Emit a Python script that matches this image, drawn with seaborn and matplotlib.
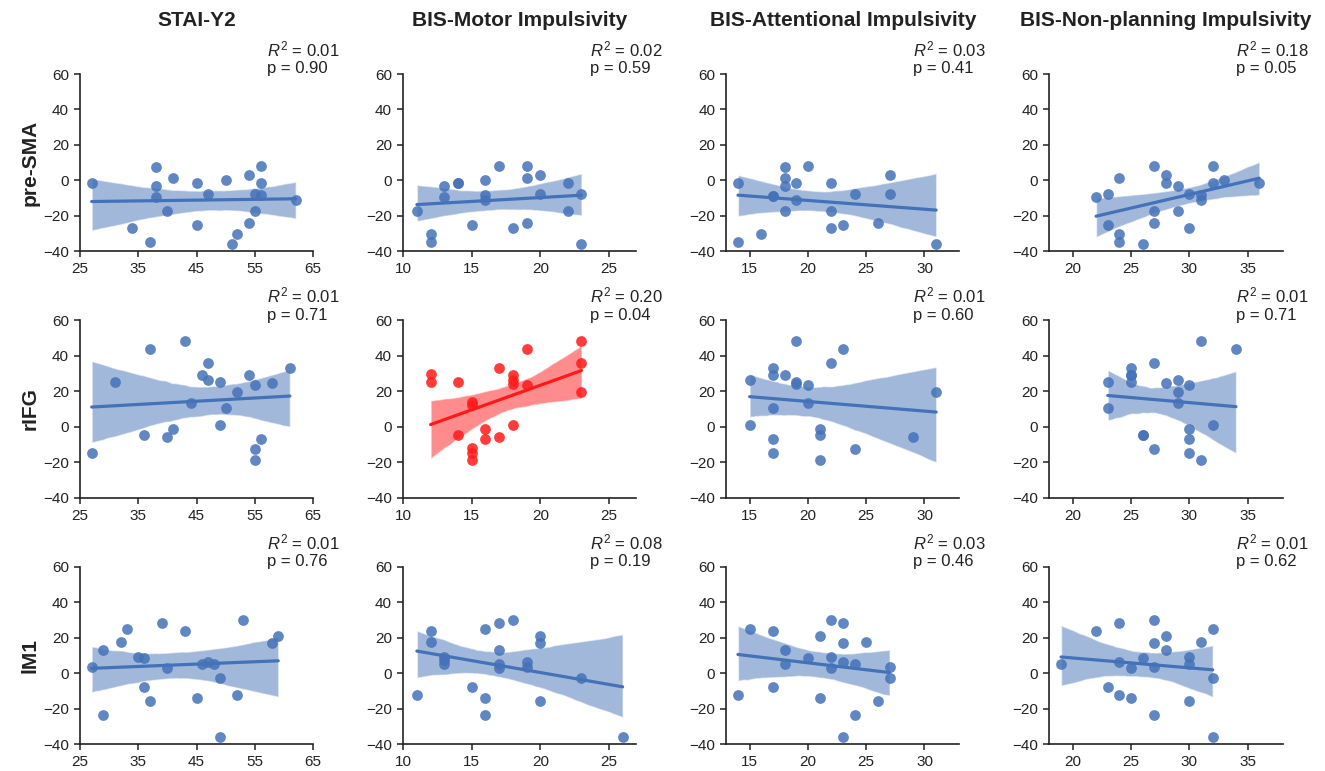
import matplotlib
matplotlib.use("Agg")
import matplotlib.pyplot as plt
import seaborn as sns
from matplotlib.collections import PolyCollection

# ---------------- data ----------------
col_titles = ["STAI-Y2", "BIS-Motor Impulsivity", "BIS-Attentional Impulsivity", "BIS-Non-planning Impulsivity"]
row_labels = ["pre-SMA", "rIFG", "lM1"]
x_ticks = [[25, 35, 45, 55, 65], [10, 15, 20, 25], [15, 20, 25, 30], [20, 25, 30, 35]]
x_lims = [(25, 65), (10, 27), (13, 33), (18, 38)]
y_ticks = [-40, -20, 0, 20, 40, 60]

presma_stai_x = [27, 34, 37, 38, 38, 38, 40, 41, 45, 45, 47, 50, 51, 52, 54, 54, 55, 55, 56, 56, 56, 62]
presma_stai_y = [-1.7, -26.6, -34.5, 7.7, -3.2, -9.4, -17.3, 1.5, -1.7, -25, -7.9, 0, -36, -30.5, -23.9, 3.2, -7.9, -17.3, 7.9, -1.7, -8.1, -10.9]
presma_motor_x = [11, 12, 12, 13, 13, 14, 14, 15, 16, 16, 16, 17, 18, 19, 19, 19, 20, 20, 22, 22, 23, 23]
presma_motor_y = [-17.3, -30.3, -34.5, -3.0, -9.4, -1.7, -1.7, -25, 0, -8.1, -10.9, 7.9, -26.6, 7.9, 1.5, -23.9, 3.2, -7.7, -1.7, -17.3, -7.7, -36]
presma_attn_x = [14, 14, 16, 17, 17, 18, 18, 18, 18, 19, 19, 20, 22, 22, 22, 23, 24, 26, 27, 27, 31]
presma_attn_y = [-1.7, -34.5, -30.5, -8.9, -8.9, 7.7, 1.5, -3.2, -17.3, -1.7, -10.9, 7.9, -1.7, -17.3, -26.6, -25, -7.9, -23.9, 3.2, -7.9, -36]
presma_nonplan_x = [22, 23, 23, 24, 24, 24, 26, 27, 27, 27, 28, 28, 29, 29, 30, 30, 31, 31, 32, 32, 33, 36]
presma_nonplan_y = [-9.4, -7.9, -25, 1.5, -30.3, -34.5, -36, 7.9, -17.3, -23.9, 3.2, -1.7, -3.0, -17.3, -7.9, -26.6, -8.1, -10.9, 7.9, -1.7, 0, -1.7]

rifg_stai_x = [27, 31, 36, 37, 40, 41, 43, 44, 46, 47, 47, 49, 49, 50, 52, 54, 55, 55, 55, 56, 58, 61]
rifg_stai_y = [-14.6, 25.2, -4.7, 43.6, -5.6, -1.5, 48.4, 13.5, 29, 35.9, 26.2, 25.2, 1.1, 10.8, 19.8, 29.2, 23.4, -12.5, -18.9, -6.7, 24.5, 33.3]
rifg_motor_x = [12, 12, 14, 14, 15, 15, 15, 15, 15, 16, 16, 17, 17, 18, 18, 18, 18, 19, 19, 23, 23, 23]
rifg_motor_y = [29.5, 25.2, 25.2, -4.7, 13.8, 12, -12.1, -14.8, -18.9, -1.5, -6.7, 33.3, -5.6, 29.2, 26.4, 23.9, 1.1, 43.6, 23.6, 48.4, 35.9, 19.6]
rifg_attn_x = [15, 15, 17, 17, 17, 17, 17, 18, 19, 19, 19, 20, 20, 21, 21, 21, 22, 23, 24, 29, 31]
rifg_attn_y = [26.2, 1.1, 33.3, 29, 10.8, -6.7, -14.8, 29, 48.4, 25.2, 23.9, 23.6, 13.5, -1.5, -4.7, -18.9, 35.9, 43.6, -12.5, -5.6, 19.6]
rifg_nonplan_x = [23, 23, 25, 25, 25, 25, 26, 26, 27, 27, 28, 29, 29, 29, 30, 30, 30, 30, 31, 31, 32, 34]
rifg_nonplan_y = [25.2, 10.8, 33.3, 29.2, 29.2, 25.2, -4.7, -4.7, 35.9, -12.5, 24.5, 26.2, 19.6, 13.5, 23.4, -1.5, -6.7, -14.8, 48.4, -18.9, 1.1, 43.6]

m1_stai_x = [27, 29, 29, 32, 33, 35, 36, 36, 37, 39, 40, 43, 45, 46, 47, 48, 49, 49, 52, 53, 58, 59]
m1_stai_y = [3.4, 12.8, -23.9, 17.5, 25, 9.2, 8.5, -8.1, -15.6, 28.4, 3.0, 23.5, -14.1, 5.3, 6.4, 5.3, -3, -36, -12.6, 29.8, 17.1, 20.9]
m1_motor_x = [11, 12, 12, 13, 13, 13, 15, 16, 16, 16, 17, 17, 17, 17, 18, 19, 19, 20, 20, 20, 23, 26]
m1_motor_y = [-12.6, 23.5, 17.5, 9.2, 7.3, 5.3, -8.1, 25, -14.1, -23.9, 28.4, 12.8, 5.3, 3.0, 29.8, 6.4, 3.4, 20.9, 17.1, -15.6, -3, -36]
m1_attn_x = [14, 15, 17, 17, 18, 18, 20, 21, 21, 22, 22, 22, 23, 23, 23, 23, 24, 24, 25, 26, 27, 27]
m1_attn_y = [-12.6, 25, 23.5, -8.1, 12.8, 5.3, 8.5, 20.9, -14.1, 29.8, 9.2, 3.0, 28.4, 17.1, 6.4, -36, 5.3, -23.9, 17.5, -15.6, 3.4, -3]
m1_nonplan_x = [19, 22, 23, 24, 24, 24, 25, 25, 26, 27, 27, 27, 27, 28, 28, 30, 30, 30, 31, 32, 32, 32]
m1_nonplan_y = [5.3, 23.5, -8.1, 28.4, 6.4, -12.6, 3.0, -14.1, 8.5, 29.8, 17.1, 3.4, -23.9, 20.9, 12.8, 9.2, 5.3, -15.6, 17.5, 25, -3, -36]

r2_values = [[0.01, 0.02, 0.03, 0.18], [0.01, 0.20, 0.01, 0.01], [0.01, 0.08, 0.03, 0.01]]
p_values = [[0.90, 0.59, 0.41, 0.05], [0.71, 0.04, 0.60, 0.71], [0.76, 0.19, 0.46, 0.62]]

panel_data = [
    [(presma_stai_x, presma_stai_y), (presma_motor_x, presma_motor_y),
     (presma_attn_x, presma_attn_y), (presma_nonplan_x, presma_nonplan_y)],
    [(rifg_stai_x, rifg_stai_y), (rifg_motor_x, rifg_motor_y),
     (rifg_attn_x, rifg_attn_y), (rifg_nonplan_x, rifg_nonplan_y)],
    [(m1_stai_x, m1_stai_y), (m1_motor_x, m1_motor_y),
     (m1_attn_x, m1_attn_y), (m1_nonplan_x, m1_nonplan_y)],
]

# ---------------- style ----------------
sns.set_theme(style="ticks")
plt.rcParams['font.family'] = ['Liberation Sans', 'DejaVu Sans']
plt.rcParams['mathtext.fontset'] = 'custom'
plt.rcParams['mathtext.rm'] = 'Liberation Sans'
plt.rcParams['mathtext.it'] = 'Liberation Sans:italic'

blue = "#4472B8"
red = "#FF1A1A"

fig, axes = plt.subplots(3, 4, figsize=(13.25, 7.71), dpi=100)
fig.subplots_adjust(left=0.0604, right=0.968, top=0.904, bottom=0.035,
                    wspace=0.386, hspace=0.39)

for r in range(3):
    for c in range(4):
        ax = axes[r, c]
        xs, ys = panel_data[r][c]
        col = red if (r == 1 and c == 1) else blue
        sns.regplot(x=xs, y=ys, ax=ax, color=col, seed=3,
                    scatter_kws=dict(s=60, alpha=0.85, linewidths=0, zorder=3),
                    line_kws=dict(lw=2.3, zorder=4))
        for coll in ax.collections:
            if isinstance(coll, PolyCollection):
                coll.set_alpha(0.5)
                coll.set_zorder(1)
        ax.set_xlim(*x_lims[c])
        ax.set_ylim(-40, 60)
        ax.set_xticks(x_ticks[c])
        ax.set_yticks(y_ticks)
        ax.tick_params(labelsize=11, length=4.5, width=1.1, color='#222222', labelcolor='#222222')
        for sp in ['left', 'bottom']:
            ax.spines[sp].set_linewidth(1.2)
            ax.spines[sp].set_color('#222222')
        sns.despine(ax=ax)
        ax.text(0.80, 1.14, f"$R^2$ = {r2_values[r][c]:.2f}", transform=ax.transAxes,
                ha='left', va='center', fontsize=12, color='#222222')
        ax.text(0.80, 1.03, f"p = {p_values[r][c]:.2f}", transform=ax.transAxes,
                ha='left', va='center', fontsize=12, color='#222222')

for c in range(4):
    pos = axes[0, c].get_position()
    fig.text((pos.x0 + pos.x1) / 2, 1 - 20 / 771, col_titles[c], ha='center', va='center',
             fontsize=15, fontweight='bold', color='#222222')
for r in range(3):
    pos = axes[r, 0].get_position()
    fig.text(30 / 1325, (pos.y0 + pos.y1) / 2, row_labels[r], rotation=90, ha='center',
             va='center', fontsize=15, fontweight='bold', color='#222222')

fig.savefig("out.png", dpi=100)
